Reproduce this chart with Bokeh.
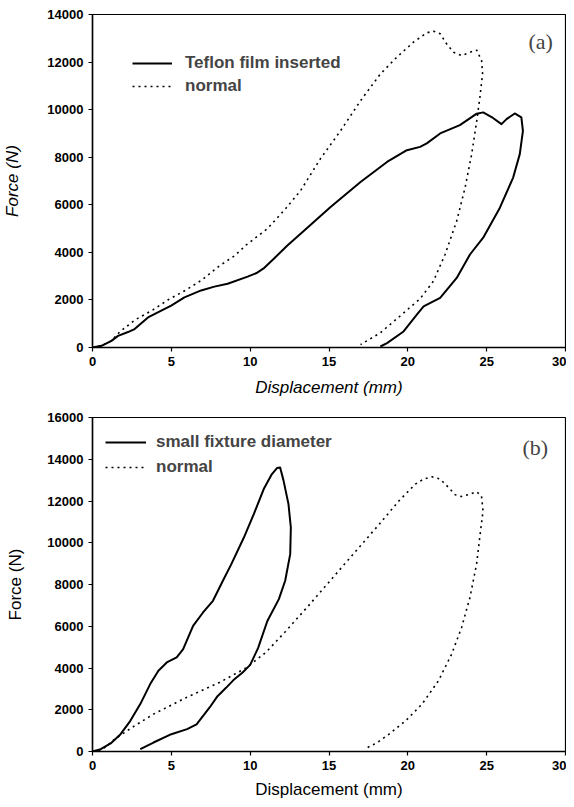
from bokeh.plotting import figure
from bokeh.models import Range1d, Legend, LegendItem, Label, FixedTicker
from bokeh.layouts import column
from bokeh.embed import file_html
from bokeh.resources import INLINE

# ---------------- data: panel (a) ----------------
teflon_x = [0, 0.57, 1.2, 1.62, 2.25, 2.67, 3.52, 4.99, 5.83, 6.89, 7.73, 8.57, 9.84, 10.4,
            10.9, 11.5, 12.36, 13.2, 15.1, 17.0, 18.68, 19.94, 20.78, 21.2, 22.05, 23.3, 24.37,
            24.78, 25.4, 25.94, 26.26, 26.78, 27.2, 27.3, 27.1, 26.68, 25.84, 24.78, 23.94,
            23.1, 22.05, 21.0, 20.57, 19.73, 18.68, 18.26]
teflon_f = [0, 70, 280, 490, 650, 775, 1265, 1760, 2110, 2400, 2560, 2680, 2980, 3130,
            3350, 3730, 4290, 4780, 5905, 6960, 7800, 8296, 8435, 8580, 9000, 9350, 9830,
            9885, 9650, 9390, 9600, 9840, 9675, 9110, 8130, 7145, 5880, 4615, 3910,
            2925, 2085, 1730, 1380, 675, 185, 42]

normal_a_x = [0, 0.57, 1.2, 1.72, 2.67, 3.83, 4.78, 5.94, 6.89, 8.04, 9.0, 9.73, 11.1, 12.2,
              13.2, 14.47, 15.73, 17.0, 18.26, 19.3, 20.36, 21.2, 21.62, 22.05, 22.46, 22.9,
              23.42, 23.94, 24.37, 24.68, 24.74, 24.57, 24.37, 24.05, 23.63, 23.1, 22.36,
              21.62, 20.78, 19.5, 18.26, 17.0]
normal_a_f = [0, 70, 280, 650, 1150, 1580, 2000, 2420, 2820, 3430, 3850, 4300, 5000, 5800,
              6600, 7950, 9110, 10375, 11500, 12205, 12840, 13230, 13300, 13190, 12765, 12415,
              12275, 12415, 12500, 12060, 11500, 10520, 9530, 8130, 6720, 5315, 3910,
              2785, 2050, 1320, 620, 120]

# ---------------- data: panel (b) ----------------
small_x = [0, 0.52, 1.15, 1.78, 2.4, 3.03, 3.66, 4.18, 4.71, 5.34, 5.75, 6.38, 7.01, 7.64,
           8.27, 8.79, 9.6, 10.23, 10.86, 11.38, 11.7, 11.9, 12.11, 12.43, 12.58, 12.54,
           12.22, 11.82, 11.09, 10.5, 10.0, 9.52, 9.0, 8.47, 7.93, 7.43, 6.6, 6.0, 5.0,
           3.87, 3.03]
small_f = [0, 115, 385, 830, 1470, 2270, 3230, 3865, 4265, 4505, 4900, 6020, 6660, 7220,
           8180, 8950, 10250, 11370, 12570, 13290, 13580, 13600, 13000, 11850, 10730, 9455,
           8180, 7300, 6250, 4950, 4150, 3785, 3465, 3050, 2650, 2110, 1300, 1070, 830,
           430, 115]

normal_b_x = [0, 0.5, 0.9, 1.26, 2.5, 3.87, 5.96, 8.06, 9.73, 11.0, 12.24, 13.79, 15.25,
              16.72, 18.19, 19.44, 20.48, 21.0, 21.53, 22.05, 22.58, 23.0, 23.41, 23.9,
              24.36, 24.67, 24.77, 24.56, 24.36, 23.94, 23.41, 22.78, 21.94, 20.9, 19.86,
              18.81, 18.0, 17.24]
normal_b_f = [0, 60, 250, 512, 1150, 1790, 2590, 3310, 4000, 4750, 5750, 7060, 8335,
              9615, 10890, 12010, 12810, 13050, 13160, 13050, 12650, 12300, 12215, 12320,
              12440, 12250, 11530, 10250, 8975, 7380, 5940, 4665, 3385, 2270, 1470,
              830, 400, 115]

x_ticks = [0, 5, 10, 15, 20, 25, 30]
y_ticks_a = [0, 2000, 4000, 6000, 8000, 10000, 12000, 14000]
y_ticks_b = [0, 2000, 4000, 6000, 8000, 10000, 12000, 14000, 16000]

FONT = "Liberation Sans"


def make_panel(width, height, borders, y_max, y_ticks, title_style, title_size):
    p = figure(width=width, height=height, output_backend="svg", toolbar_location=None,
               x_range=Range1d(0, 30), y_range=Range1d(0, y_max),
               min_border_left=borders[0], min_border_right=borders[1],
               min_border_top=borders[2], min_border_bottom=borders[3])
    p.xgrid.visible = False
    p.ygrid.visible = False
    p.outline_line_color = "black"
    p.outline_line_width = 1.2
    p.background_fill_color = "white"
    p.border_fill_color = "white"
    p.xaxis.ticker = FixedTicker(ticks=x_ticks)
    p.yaxis.ticker = FixedTicker(ticks=y_ticks)
    for ax in (p.xaxis, p.yaxis):
        ax.axis_line_width = 1.5
        ax.axis_line_color = "black"
        ax.major_tick_in = 0
        ax.major_tick_out = 4
        ax.major_tick_line_width = 1.2
        ax.minor_tick_in = 0
        ax.minor_tick_out = 0
        ax.major_label_text_font = FONT
        ax.major_label_text_font_style = "bold"
        ax.major_label_text_font_size = "13px"
        ax.major_label_text_color = "black"
        ax.major_label_standoff = 5
        ax.axis_label_text_font = FONT
        ax.axis_label_text_font_style = title_style
        ax.axis_label_text_font_size = title_size
        ax.axis_label_text_color = "black"
    p.xaxis.axis_label = "Displacement (mm)"
    p.yaxis.axis_label = "Force (N)"
    return p


# ---------------- panel (a) ----------------
p1 = make_panel(566, 408, (91, 1, 14, 61), 14000, y_ticks_a, "italic", "17px")
p1.xaxis.axis_label_standoff = 9
p1.yaxis.axis_label_standoff = 22
r1 = p1.line(teflon_x, teflon_f, line_color="black", line_width=2, line_join="round")
r2 = p1.line(normal_a_x, normal_a_f, line_color="black", line_width=1.6, line_dash="2 4")
leg1 = Legend(items=[LegendItem(label="Teflon film inserted", renderers=[r1]),
                     LegendItem(label="normal", renderers=[r2])],
              location=(40, 251), padding=0, margin=0, spacing=3,
              glyph_width=40, glyph_height=20, label_height=20, label_standoff=13,
              label_text_font=FONT, label_text_font_style="bold",
              label_text_font_size="17px", border_line_color=None,
              background_fill_alpha=0)
p1.add_layout(leg1)
p1.add_layout(Label(x=436, y=306, x_units="screen", y_units="screen", text="(a)",
                    text_font="Liberation Serif", text_font_size="22px",
                    text_baseline="middle", text_align="left"))

# ---------------- panel (b) ----------------
p2 = make_panel(566, 399, (87, 1, 9, 56), 16000, y_ticks_b, "normal", "17px")
p2.xaxis.axis_label_standoff = 7
p2.yaxis.axis_label_standoff = 19
s1 = p2.line(small_x, small_f, line_color="black", line_width=2, line_join="round")
s2 = p2.line(normal_b_x, normal_b_f, line_color="black", line_width=1.6, line_dash="2 4")
leg2 = Legend(items=[LegendItem(label="small fixture diameter", renderers=[s1]),
                     LegendItem(label="normal", renderers=[s2])],
              location=(13, 274), padding=0, margin=0, spacing=5,
              glyph_width=41, glyph_height=20, label_height=20, label_standoff=10,
              label_text_font=FONT, label_text_font_style="bold",
              label_text_font_size="17px", border_line_color=None,
              background_fill_alpha=0)
p2.add_layout(leg2)
p2.add_layout(Label(x=430, y=304, x_units="screen", y_units="screen", text="(b)",
                    text_font="Liberation Serif", text_font_size="22px",
                    text_baseline="middle", text_align="left"))

layout = column(p1, p2, spacing=0)
open("out.html", "w").write(file_html(layout, INLINE))
